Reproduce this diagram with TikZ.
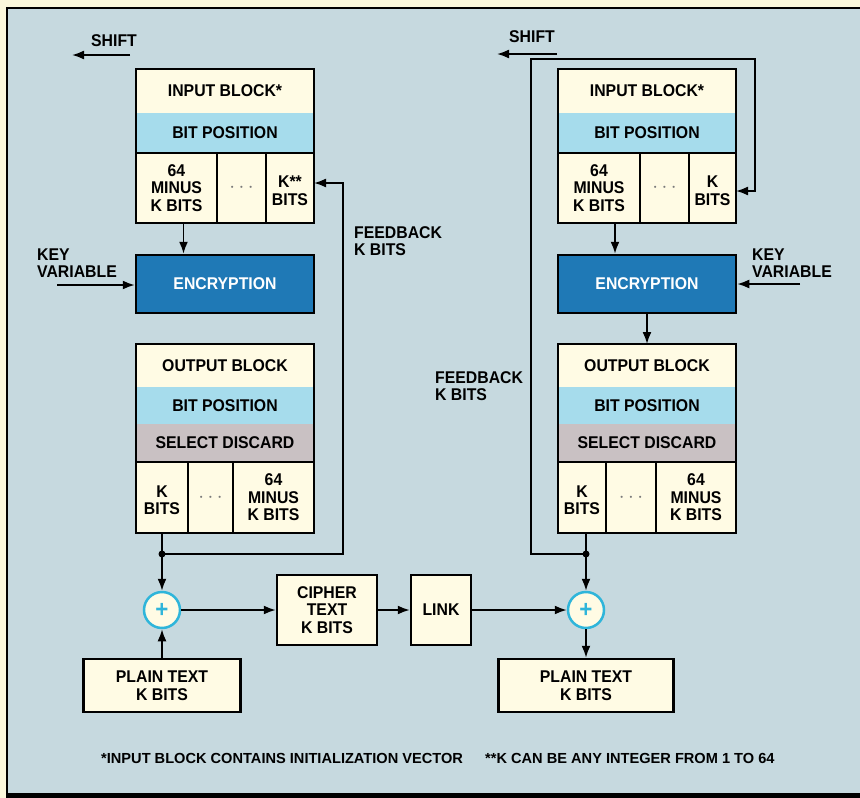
\documentclass[tikz,border=0pt]{standalone}
\usepackage{fontspec}
\setmainfont{Liberation Sans}[FakeStretch=0.93]
\newfontfamily\footfont{Liberation Sans}
\usetikzlibrary{arrows.meta,calc}
\definecolor{margincol}{HTML}{FBF8DC}
\definecolor{bgcol}{HTML}{C6D9DF}
\definecolor{creamcol}{HTML}{FFFBE4}
\definecolor{cyancol}{HTML}{A6DCEC}
\definecolor{greycol}{HTML}{C9C1C3}
\definecolor{enccol}{HTML}{1F79B6}
\definecolor{xorcol}{HTML}{2FB5DA}
\definecolor{dotcol}{HTML}{7A7A7A}
\begin{document}
\begin{tikzpicture}[x=1pt,y=-1pt,
  lab/.style={font=\bfseries\fontsize{17}{17.5}\selectfont, align=center},
  cell/.style={lab, fill=creamcol, inner sep=0pt, outer sep=0pt},
  cyancell/.style={cell, fill=cyancol},
  greycell/.style={cell, fill=greycol},
  blk/.style={line width=2.5pt, line join=miter},
  boxed/.style={lab, draw, line width=2.5pt, fill=creamcol, inner sep=0pt},
  encbox/.style={lab, draw, line width=2.5pt, fill=enccol, text=white, inner sep=0pt, minimum width=178pt, minimum height=58pt},
  xor/.style={circle, draw=xorcol, line width=2.5pt, fill=creamcol, minimum size=36pt, inner sep=0pt, text=xorcol, font=\bfseries\fontsize{24}{24}\selectfont},
  arr/.style={line width=1.8pt, -{Latex[length=12pt,width=9pt]}},
  ln/.style={line width=1.8pt},
  note/.style={lab, align=left},
  foot/.style={font=\footfont\bfseries\fontsize{14.6}{16}\selectfont, anchor=west, inner sep=0pt}
]
\useasboundingbox (0,0) rectangle (860,798);
% frame
\fill[margincol] (0,0) rectangle (860,798);
\fill[bgcol] (7,8) rectangle (860,793);
\draw[line width=1.5pt] (7,793) -- (7,8) -- (860,8);
\fill[black] (6,793) rectangle (860,798);

\newcommand{\dotsx}{{\color{dotcol}\fontsize{20}{20}\selectfont$\cdots$}}

% ---------- left input block
\node[cell, minimum width=178pt, minimum height=44pt] (inLt) at (225,91) {INPUT BLOCK*};
\node[cyancell, minimum width=178pt, minimum height=40pt] (inLbit) at (225,133) {BIT POSITION};
\node[cell, minimum width=81pt, minimum height=70pt] (inLa) at (176.5,188) {64\\MINUS\\K BITS};
\node[cell, minimum width=49pt, minimum height=70pt] (inLb) at (241.5,188) {\dotsx};
\node[cell, minimum width=48pt, minimum height=70pt] (inLc) at (290,188) {\mbox{}\\K**\\BITS};
\draw[blk] (inLt.north west) rectangle (inLc.south east);
\draw[blk] (inLbit.south west) -- (inLbit.south east);
\draw[blk] (inLa.north east) -- (inLa.south east);
\draw[blk] (inLb.north east) -- (inLb.south east);

% ---------- right input block
\node[cell, minimum width=178pt, minimum height=44pt] (inRt) at (647,91) {INPUT BLOCK*};
\node[cyancell, minimum width=178pt, minimum height=40pt] (inRbit) at (647,133) {BIT POSITION};
\node[cell, minimum width=82pt, minimum height=70pt] (inRa) at (599,188) {64\\MINUS\\K BITS};
\node[cell, minimum width=49pt, minimum height=70pt] (inRb) at (664.5,188) {\dotsx};
\node[cell, minimum width=47pt, minimum height=70pt] (inRc) at (712.5,188) {\mbox{}\\K\\BITS};
\draw[blk] (inRt.north west) rectangle (inRc.south east);
\draw[blk] (inRbit.south west) -- (inRbit.south east);
\draw[blk] (inRa.north east) -- (inRa.south east);
\draw[blk] (inRb.north east) -- (inRb.south east);

% ---------- encryption boxes
\node[encbox] (encL) at (225,284) {ENCRYPTION};
\node[encbox] (encR) at (647,284) {ENCRYPTION};

% ---------- left output block
\node[cell, minimum width=178pt, minimum height=43pt] (outLt) at (225,365.5) {OUTPUT BLOCK};
\node[cyancell, minimum width=178pt, minimum height=37pt] (outLbit) at (225,405.5) {BIT POSITION};
\node[greycell, minimum width=178pt, minimum height=38pt] (outLsel) at (225,443) {SELECT DISCARD};
\node[cell, minimum width=52pt, minimum height=71pt] (outLa) at (162,497.5) {\mbox{}\\K\\BITS};
\node[cell, minimum width=45pt, minimum height=71pt] (outLb) at (210.5,497.5) {\dotsx};
\node[cell, minimum width=81pt, minimum height=71pt] (outLc) at (273.5,497.5) {64\\MINUS\\K BITS};
\draw[blk] (outLt.north west) rectangle (outLc.south east);
\draw[blk] (outLsel.south west) -- (outLsel.south east);
\draw[blk] (outLa.north east) -- (outLa.south east);
\draw[blk] (outLb.north east) -- (outLb.south east);

% ---------- right output block
\node[cell, minimum width=178pt, minimum height=43pt] (outRt) at (647,365.5) {OUTPUT BLOCK};
\node[cyancell, minimum width=178pt, minimum height=37pt] (outRbit) at (647,405.5) {BIT POSITION};
\node[greycell, minimum width=178pt, minimum height=38pt] (outRsel) at (647,443) {SELECT DISCARD};
\node[cell, minimum width=48pt, minimum height=71pt] (outRa) at (582,497.5) {\mbox{}\\K\\BITS};
\node[cell, minimum width=50pt, minimum height=71pt] (outRb) at (631,497.5) {\dotsx};
\node[cell, minimum width=80pt, minimum height=71pt] (outRc) at (696,497.5) {64\\MINUS\\K BITS};
\draw[blk] (outRt.north west) rectangle (outRc.south east);
\draw[blk] (outRsel.south west) -- (outRsel.south east);
\draw[blk] (outRa.north east) -- (outRa.south east);
\draw[blk] (outRb.north east) -- (outRb.south east);

% ---------- bottom row
\node[xor] (xL) at (162,610) {+};
\node[xor] (xR) at (586,610) {+};
\node[boxed, minimum width=100pt, minimum height=70pt] (ciph) at (327,610) {CIPHER\\TEXT\\K BITS};
\node[boxed, minimum width=60pt, minimum height=70pt] (link) at (441,610) {LINK};
\node[boxed, minimum width=157pt, minimum height=53pt] (pL) at (162,685.5) {PLAIN TEXT\\K BITS};
\node[boxed, minimum width=175pt, minimum height=53pt] (pR) at (586,685.5) {PLAIN TEXT\\K BITS};

% ---------- labels
\node[lab] (shiftL) at (114,41) {SHIFT};
\node[lab] (shiftR) at (532,37) {SHIFT};
\node[note, anchor=west, inner sep=0pt] (keyL) at (37,263) {KEY\\VARIABLE};
\node[note, anchor=west, inner sep=0pt] (keyR) at (752,263) {KEY\\VARIABLE};
\node[note, anchor=west, inner sep=0pt] (fbL) at (354,241) {FEEDBACK\\K BITS};
\node[note, anchor=west, inner sep=0pt] (fbR) at (435,386) {FEEDBACK\\K BITS};
\node[foot] (noteA) at (101,758) {*INPUT BLOCK CONTAINS INITIALIZATION VECTOR};
\node[foot] (noteB) at (485,758) {**K CAN BE ANY INTEGER FROM 1 TO 64};

% ---------- coordinates
\coordinate (shL1) at (130,55);
\coordinate (shL2) at (72,55);
\coordinate (shR1) at (557,54);
\coordinate (shR2) at (497,54);
\coordinate (kL) at (57,285);
\coordinate (kR) at (800,284);
\coordinate (jL) at (162,554);
\coordinate (jR) at (586,554);
\coordinate (fbLc) at (343,554);
\coordinate (fbRa) at (531,554);
\coordinate (fbRb) at (531,59);
\coordinate (fbRc) at (755,59);

% ---------- connectors
\draw[arr] (shL1) -- (shL2);
\draw[arr] (shR1) -- (shR2);
\draw[arr] (kL) -- (kL -| encL.west);
\draw[arr] (kR) -- (kR -| encR.east);
\draw[arr] ([xshift=7pt]inLa.south) -- ([xshift=7pt]inLa.south |- encL.north);
\draw[arr] ([xshift=16pt]inRa.south) -- ([xshift=16pt]inRa.south |- encR.north);
\draw[arr] (encR.south) -- (outRt.north);
\draw[ln] (outLa.south) -- (jL);
\draw[arr] (jL) -- (xL.north);
\draw[ln] (outRa.south -| jR) -- (jR);
\draw[arr] (jR) -- (xR.north);
\draw[arr] (jL) -- (fbLc) |- ([yshift=5pt]inLc.east);
\draw[arr] (jR) -- (fbRa) -- (fbRb) -- (fbRc) |- ([yshift=-3pt]inRc.east);
\fill (jL) circle (3.5pt);
\fill (jR) circle (3.5pt);
\draw[arr] (pL.north) -- (xL.south);
\draw[arr] (xL.east) -- (ciph.west);
\draw[arr] (ciph.east) -- (link.west);
\draw[arr] (link.east) -- (xR.west);
\draw[arr] (xR.south) -- (pR.north);
\end{tikzpicture}
\end{document}
